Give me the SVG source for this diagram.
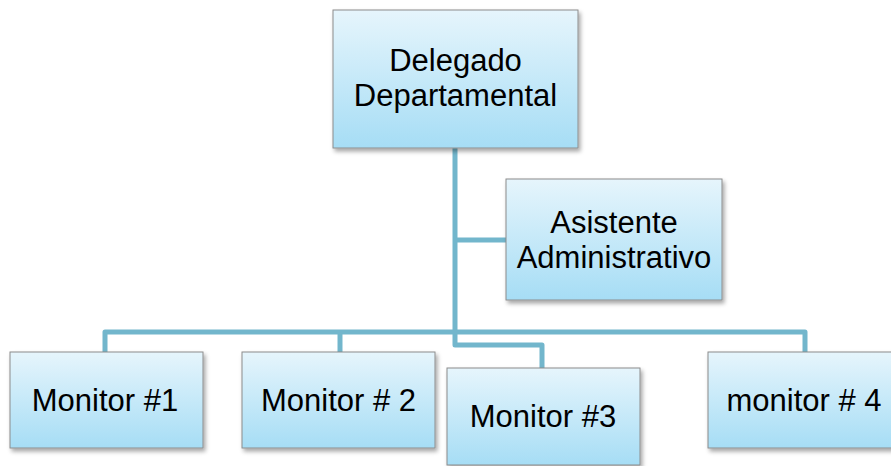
<svg xmlns="http://www.w3.org/2000/svg" width="891" height="466" viewBox="0 0 891 466">
<defs>
<linearGradient id="g" x1="0" y1="0" x2="0" y2="1">
<stop offset="0" stop-color="#e6f5fc"/>
<stop offset="1" stop-color="#a6ddf5"/>
</linearGradient>
<filter id="sh" x="-10%" y="-10%" width="125%" height="130%">
<feDropShadow dx="2" dy="3" stdDeviation="2" flood-color="#000" flood-opacity="0.35"/>
</filter>
</defs>
<style>
.box{fill:url(#g);stroke:#8c8c8c;stroke-width:1;filter:url(#sh)}
.t{font-family:"Liberation Sans",Arial,sans-serif;font-size:31px;fill:#000;text-anchor:middle}
.c{fill:none;stroke:#72b6cc;stroke-width:5;stroke-linejoin:round}
</style>
<g id="connectors">
<path class="c" d="M455,148 V345 H542 V368"/>
<path class="c" d="M455,240 H506"/>
<path class="c" d="M105,352 V332 H805 V352"/>
<path class="c" d="M340,332 V352"/>
</g>
<g id="delegado">
<rect class="box" x="333" y="10" width="245" height="138"/>
<text class="t" x="455.5" y="71">Delegado</text>
<text class="t" x="455.5" y="106">Departamental</text>
</g>
<g id="asistente">
<rect class="box" x="506" y="179" width="216" height="121"/>
<text class="t" x="614" y="233">Asistente</text>
<text class="t" x="614" y="268">Administrativo</text>
</g>
<g id="monitor1">
<rect class="box" x="10" y="352" width="193" height="96"/>
<text class="t" x="105" y="411">Monitor #1</text>
</g>
<g id="monitor2">
<rect class="box" x="242" y="352" width="193" height="96"/>
<text class="t" x="338.5" y="411">Monitor # 2</text>
</g>
<g id="monitor3">
<rect class="box" x="447" y="368" width="193" height="97"/>
<text class="t" x="543" y="427">Monitor #3</text>
</g>
<g id="monitor4">
<rect class="box" x="708" y="352" width="193" height="96"/>
<text class="t" x="804" y="411">monitor # 4</text>
</g>
</svg>
